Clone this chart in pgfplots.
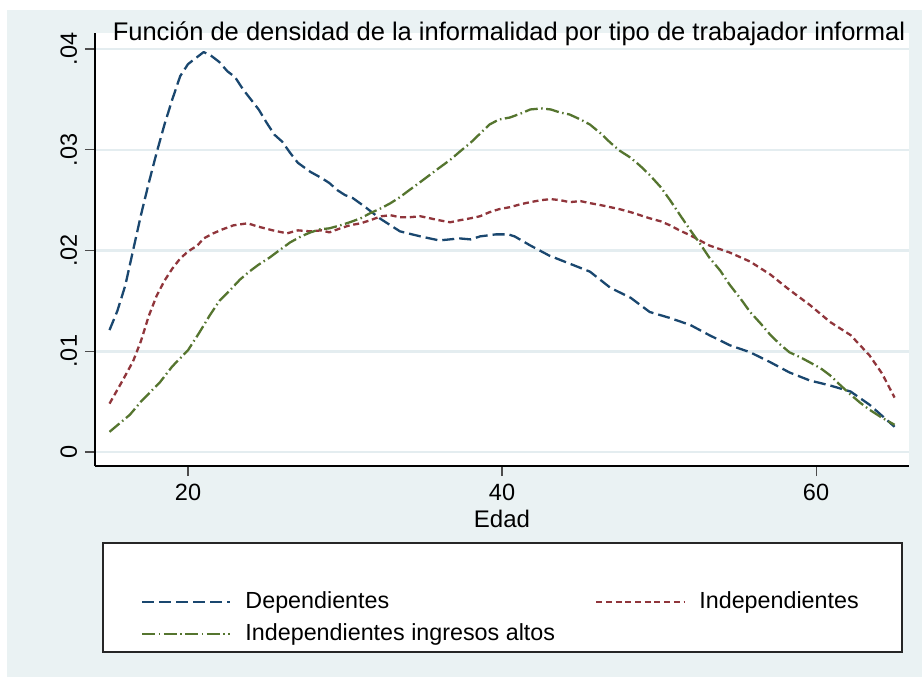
\documentclass[border=0pt]{standalone}
\usepackage{fontspec}
\setmainfont{Liberation Sans}
\usepackage{pgfplots}
\pgfplotsset{compat=1.18}
\definecolor{bg}{HTML}{EAF2F3}
\definecolor{gridc}{HTML}{E4EDF0}
\definecolor{sblue}{HTML}{1A476F}
\definecolor{sred}{HTML}{90353B}
\definecolor{sgreen}{HTML}{55752F}

\pgfplotstableread{
x y
15.0 0.0121
15.5 0.0140
16.0 0.0165
16.5 0.0200
17.0 0.0235
17.5 0.0267
18.0 0.0297
18.5 0.0325
19.0 0.0350
19.5 0.0373
20.0 0.0385
20.5 0.0391
21.0 0.0397
21.5 0.0393
22.0 0.0387
22.5 0.0378
23.0 0.0372
23.5 0.0360
24.0 0.0350
24.5 0.0340
25.0 0.0327
25.5 0.0315
26.0 0.0308
26.5 0.0297
27.0 0.0287
27.8 0.0278
28.5 0.0272
29.0 0.0267
29.5 0.0260
30.0 0.0255
30.5 0.0252
31.3 0.0243
32.2 0.0232
33.0 0.0224
33.5 0.0219
34.8 0.0214
36.0 0.0210
37.3 0.0212
38.0 0.0211
38.6 0.0214
39.6 0.0216
40.4 0.0216
40.8 0.0214
41.8 0.0205
43.0 0.0195
44.3 0.0187
45.6 0.0179
46.9 0.0163
48.2 0.0153
49.4 0.0139
50.7 0.0133
52.0 0.0126
53.2 0.0116
54.5 0.0106
55.8 0.0099
57.1 0.0089
58.3 0.0079
59.6 0.0071
60.9 0.0066
62.2 0.0060
63.4 0.0047
65.0 0.0025
}\dep

\pgfplotstableread{
x y
15.0 0.0048
15.8 0.0070
16.5 0.0090
17.0 0.0110
17.5 0.0135
18.0 0.0155
18.5 0.0170
19.0 0.0182
19.5 0.0192
20.0 0.0199
20.6 0.0205
21.0 0.0212
21.6 0.0217
22.2 0.0221
22.9 0.0225
23.8 0.0227
24.4 0.0224
25.4 0.0220
26.3 0.0217
27.0 0.0220
27.8 0.0219
28.5 0.0220
29.0 0.0218
29.7 0.0222
30.3 0.0225
31.0 0.0227
31.6 0.0230
32.3 0.0234
32.9 0.0235
33.5 0.0233
34.1 0.0233
34.8 0.0234
35.4 0.0232
36.0 0.0230
36.7 0.0228
37.3 0.0230
38.0 0.0232
38.6 0.0234
39.2 0.0238
39.8 0.0241
40.5 0.0243
41.2 0.0246
41.8 0.0248
42.5 0.0250
43.1 0.0251
43.7 0.0250
44.3 0.0248
45.0 0.0249
45.6 0.0247
46.3 0.0245
46.9 0.0243
47.5 0.0241
48.2 0.0238
48.8 0.0235
49.4 0.0232
50.1 0.0229
50.7 0.0225
51.3 0.0220
52.0 0.0215
52.6 0.0210
53.2 0.0205
54.5 0.0198
55.8 0.0189
57.1 0.0176
58.3 0.0161
59.6 0.0146
60.9 0.0129
62.2 0.0116
63.4 0.0096
64.2 0.0078
65.0 0.0054
}\ind

\pgfplotstableread{
x y
15.0 0.0020
16.3 0.0037
17.0 0.0050
18.2 0.0069
19.0 0.0085
20.0 0.0101
20.7 0.0118
21.4 0.0136
22.0 0.0150
22.7 0.0161
23.3 0.0171
23.9 0.0179
24.5 0.0186
25.2 0.0193
25.8 0.0200
26.5 0.0208
27.2 0.0214
27.8 0.0218
28.4 0.0221
29.0 0.0222
29.7 0.0225
30.3 0.0228
31.0 0.0232
31.6 0.0237
32.3 0.0242
32.9 0.0247
33.5 0.0253
34.1 0.0260
34.8 0.0268
35.4 0.0275
36.0 0.0282
36.7 0.0290
37.3 0.0298
38.0 0.0307
38.6 0.0316
39.2 0.0325
39.8 0.0330
40.5 0.0332
41.2 0.0336
41.8 0.0340
42.5 0.0341
43.1 0.0340
43.7 0.0337
44.3 0.0335
45.0 0.0330
45.6 0.0325
46.3 0.0316
46.9 0.0307
47.5 0.0299
48.2 0.0292
48.8 0.0284
49.4 0.0275
50.1 0.0263
50.7 0.0250
51.3 0.0236
52.0 0.0220
52.6 0.0207
53.2 0.0193
53.9 0.0180
54.5 0.0166
55.2 0.0152
55.8 0.0139
56.5 0.0127
57.1 0.0116
57.7 0.0107
58.3 0.0099
59.0 0.0094
59.6 0.0089
60.3 0.0083
60.9 0.0076
61.5 0.0067
62.2 0.0057
62.8 0.0049
63.4 0.0042
64.2 0.0034
65.0 0.0027
}\alt

\begin{document}
\begin{tikzpicture}[x=1pt,y=1pt]
\fill[white] (0,0) rectangle (922,-677);
\fill[bg] (7,-10) rectangle (922,-677);
\draw[black!85, line width=1.3pt, fill=white] (103,-543) rectangle (902,-652);
\begin{axis}[
  at={(95pt,-466pt)}, anchor=south west,
  scale only axis, width=814pt, height=433pt,
  xmin=14.076, xmax=65.92, ymin=-0.00139, ymax=0.041588,
  axis background/.style={fill=white},
  axis x line*=bottom, axis y line*=left,
  axis line style={black, line width=1.1pt, -},
  xtick={20,40,60}, xticklabels={20,40,60},
  ytick={0,0.01,0.02,0.03,0.04}, yticklabels={0,.01,.02,.03,.04},
  scaled y ticks=false,
  tick align=outside, major tick length=10pt, minor tick num=0,
  tick style={black!70, line width=1.1pt},
  ticklabel style={font=\fontsize{23.5}{28}\selectfont},
  yticklabel style={rotate=90, anchor=south, inner sep=0pt, outer ysep=8pt},
  xticklabel style={anchor=north, inner sep=0pt, outer ysep=8pt},
  ymajorgrids, major grid style={gridc, line width=2.5pt},
  xlabel={Edad},
  xlabel style={font=\fontsize{24}{28}\selectfont, at={(axis description cs:0.5,0)}, anchor=center, yshift=-53pt},
  legend columns=2, legend cell align=left,
  legend image code/.code={\draw[#1, line width=2.3pt] (0pt,0pt) -- (88pt,0pt);},
  legend style={draw=none, fill=none, inner sep=0pt,
    font=\fontsize{23.3}{28}\selectfont,
    at={(axis description cs:0.0565,-0.2887)}, anchor=north west,
    nodes={inner sep=0pt, text height=17pt, text depth=5pt},
    row sep=10pt,
    /tikz/every odd column/.append style={column sep=14pt},
    /tikz/every even column/.append style={column sep=40pt}},
]
\addplot[sblue, line width=2.3pt, line join=round, dash pattern=on 12pt off 5pt] table {\dep};
\addlegendentry{Dependientes}
\addplot[sred, line width=2.3pt, line join=round, dash pattern=on 6pt off 3.7pt] table {\ind};
\addlegendentry{Independientes}
\addplot[sgreen, line width=2.3pt, line join=round, dash pattern=on 13pt off 3.5pt on 1.5pt off 3.5pt] table {\alt};
\addlegendentry{Independientes ingresos altos}
\end{axis}
\node[anchor=base, font=\fontsize{25.5}{30}\selectfont, inner sep=0pt] at (509,-41) {Función de densidad de la informalidad por tipo de trabajador informal};
\end{tikzpicture}
\end{document}
